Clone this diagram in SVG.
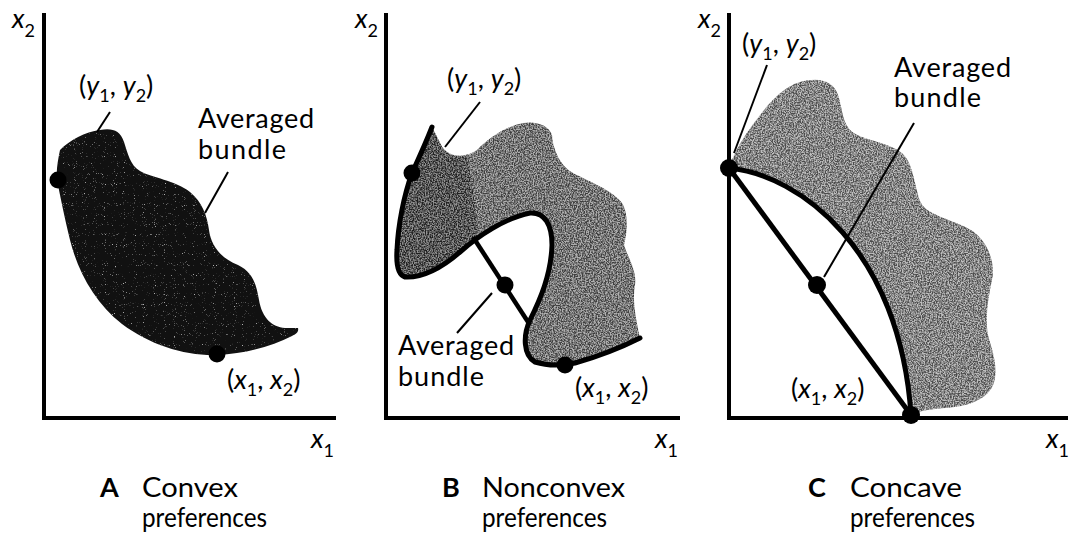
<svg xmlns="http://www.w3.org/2000/svg" width="1074" height="534" viewBox="0 0 1074 534">
<style>
.ax{stroke:#000;stroke-width:4;fill:none;stroke-linecap:square}
.ld{stroke:#000;stroke-width:2;fill:none}
.ol{stroke:#000;stroke-width:5;fill:none;stroke-linecap:round;stroke-linejoin:round}
.t{font-family:Lato,'Open Sans','DejaVu Sans',sans-serif;font-size:27px;fill:#000}
.c{font-size:27px}
.i{font-style:italic}
.sub{font-size:18px}
.cap{font-weight:bold}
.dot{fill:#000}
</style>
<defs>
<filter id="grain" x="-5%" y="-5%" width="110%" height="110%" color-interpolation-filters="sRGB">
<feTurbulence type="fractalNoise" baseFrequency="0.75" numOctaves="2" seed="3" result="n"/>
<feColorMatrix in="n" type="matrix" values="3 0 0 0 -1  3 0 0 0 -1  3 0 0 0 -1  0 0 0 0 1" result="g"/>
<feComposite in="g" in2="SourceGraphic" operator="in" result="gi"/>
<feComposite in="gi" in2="SourceGraphic" operator="arithmetic" k1="0" k2="0.45" k3="0.55" k4="0"/>
</filter>
<filter id="specks" x="-5%" y="-5%" width="110%" height="110%" color-interpolation-filters="sRGB">
<feTurbulence type="fractalNoise" baseFrequency="1.1" numOctaves="1" seed="8" result="n"/>
<feColorMatrix in="n" type="matrix" values="0 0 0 0 0.7  0 0 0 0 0.7  0 0 0 0 0.7  7 0 0 0 -4.6" result="w"/>
<feComposite in="w" in2="SourceGraphic" operator="in" result="wi"/>
<feMerge><feMergeNode in="SourceGraphic"/><feMergeNode in="wi"/></feMerge>
</filter>
</defs>
<rect width="1074" height="534" fill="#fff"/>

<!-- Panel A -->
<g id="panel-a">
<g id="axes-a">
<path class="ax" d="M44,15 V418 H334"/>
<text class="t" x="12" y="28"><tspan class="i">x</tspan><tspan class="sub" dy="9">2</tspan></text>
<text class="t" x="311" y="448"><tspan class="i">x</tspan><tspan class="sub" dy="9">1</tspan></text>
</g>
<g id="blob-a">
<path fill="#111" filter="url(#specks)" d="M60,150 C70,140 85,132 100,130 C112,128 120,130 124,142 C128,154 130,165 140,171 C152,178 175,180 190,192 C202,202 207,215 209,230 C211,245 220,258 238,265 C252,272 256,282 259,300 C262,318 272,327 285,328 L298,328 C299,332 296,334 292,336 C272,346 245,354 217,355 C185,356 150,345 122,324 C95,303 78,272 70,240 C64,215 60,195 57,180 C56,170 58,160 60,150 Z"/>
<circle class="dot" cx="58" cy="180" r="8.5"/>
<circle class="dot" cx="217" cy="354" r="8.5"/>
</g>
<g id="label-a-y">
<text class="t" x="79" y="95">(<tspan class="i">y</tspan><tspan class="sub" dy="7">1</tspan><tspan dy="-7">, </tspan><tspan class="i">y</tspan><tspan class="sub" dy="7">2</tspan><tspan dy="-7">)</tspan></text>
</g>
<g id="label-a-avg">
<text class="t" x="198" y="128" textLength="116">Averaged</text>
<text class="t" x="198" y="159" textLength="88">bundle</text>
</g>
<g id="label-a-x">
<text class="t" x="227" y="389">(<tspan class="i">x</tspan><tspan class="sub" dy="7">1</tspan><tspan dy="-7">, </tspan><tspan class="i">x</tspan><tspan class="sub" dy="7">2</tspan><tspan dy="-7">)</tspan></text>
</g>
<g id="caption-a">
<text class="t c cap" x="100" y="497">A</text>
<text class="t c" x="142" y="497" textLength="96" lengthAdjust="spacingAndGlyphs">Convex</text>
<text class="t c" x="142" y="527" textLength="125" lengthAdjust="spacingAndGlyphs">preferences</text>
</g>
</g>

<!-- Panel B -->
<g id="panel-b">
<g id="axes-b">
<path class="ax" d="M386,15 V418 H678"/>
<text class="t" x="355" y="28"><tspan class="i">x</tspan><tspan class="sub" dy="9">2</tspan></text>
<text class="t" x="655" y="448"><tspan class="i">x</tspan><tspan class="sub" dy="9">1</tspan></text>
</g>
<g id="blob-b">
<g filter="url(#grain)">
<path fill="#707070" d="M432,127 C425,145 418,160 412,173 C404,195 398,225 397,250 C396,265 398,275 405,277 C425,278 445,265 460,252 C478,236 505,218 530,213 C545,212 552,225 552,245 C551,275 540,300 530,320 C523,335 523,355 535,362 C548,366 560,366 575,363 C600,356 620,348 640,338 C636,320 632,300 635,285 C637,270 628,258 624,245 C628,230 628,212 622,203 C612,190 590,182 573,173 C560,166 553,150 552,135 C548,124 535,121 523,123 C505,127 490,137 477,150 C465,158 450,158 442,147 Z"/>
<path fill="#222" opacity="0.7" d="M432,127 C425,145 418,160 412,173 C404,195 398,225 397,250 C396,265 398,275 405,277 C425,278 445,265 460,252 C468,245 474,240 478,236 C476,210 472,180 466,156 C456,158 447,155 442,147 Z"/>
</g>
<path class="ol" d="M432,127 C425,145 418,160 412,173 C404,195 398,225 397,250 C396,265 398,275 405,277 C425,278 445,265 460,252 C478,236 505,218 530,213 C545,212 552,225 552,245 C551,275 540,300 530,320 C523,335 523,355 535,362 C548,366 560,366 575,363 C600,356 620,348 640,338"/>
<line x1="473" y1="237" x2="530" y2="325" stroke="#000" stroke-width="4.5"/>
<circle class="dot" cx="412" cy="173" r="8.5"/>
<circle class="dot" cx="505" cy="285" r="8.5"/>
<circle class="dot" cx="565" cy="365" r="8.5"/>
</g>
<g id="label-b-y">
<text class="t" x="447" y="88">(<tspan class="i">y</tspan><tspan class="sub" dy="7">1</tspan><tspan dy="-7">, </tspan><tspan class="i">y</tspan><tspan class="sub" dy="7">2</tspan><tspan dy="-7">)</tspan></text>
</g>
<g id="label-b-avg">
<text class="t" x="398" y="355" textLength="116">Averaged</text>
<text class="t" x="398" y="386" textLength="86">bundle</text>
</g>
<g id="label-b-x">
<text class="t" x="575" y="397">(<tspan class="i">x</tspan><tspan class="sub" dy="7">1</tspan><tspan dy="-7">, </tspan><tspan class="i">x</tspan><tspan class="sub" dy="7">2</tspan><tspan dy="-7">)</tspan></text>
</g>
<g id="caption-b">
<text class="t c cap" x="442" y="497">B</text>
<text class="t c" x="482" y="497" textLength="143" lengthAdjust="spacingAndGlyphs">Nonconvex</text>
<text class="t c" x="482" y="527" textLength="125" lengthAdjust="spacingAndGlyphs">preferences</text>
</g>
</g>

<!-- Panel C -->
<g id="panel-c">
<g id="axes-c">
<path class="ax" d="M729,15 V418 H1066"/>
<text class="t" x="698" y="28"><tspan class="i">x</tspan><tspan class="sub" dy="9">2</tspan></text>
<text class="t" x="1046" y="448"><tspan class="i">x</tspan><tspan class="sub" dy="9">1</tspan></text>
</g>
<g id="blob-c">
<path fill="#8a8a8a" filter="url(#grain)" d="M729,168 C735,150 745,135 754,123 C765,108 780,88 800,82 C818,77 833,80 838,95 C843,110 842,125 854,133 C866,141 893,143 904,155 C914,166 915,190 921,203 C928,216 955,220 971,230 C987,240 996,262 992,280 C988,298 985,318 988,335 C992,350 997,362 995,378 C993,393 980,402 961,406 C945,409 925,408 911,415 C900,250 800,175 729,168 Z"/>
<path class="ol" d="M729,168 C800,175 900,250 911,415"/>
<line x1="729" y1="168" x2="911" y2="415" stroke="#000" stroke-width="5"/>
<circle class="dot" cx="729" cy="168" r="9"/>
<circle class="dot" cx="817" cy="285" r="9"/>
<circle class="dot" cx="911" cy="415" r="9"/>
</g>
<g id="label-c-y">
<text class="t" x="742" y="53">(<tspan class="i">y</tspan><tspan class="sub" dy="7">1</tspan><tspan dy="-7">, </tspan><tspan class="i">y</tspan><tspan class="sub" dy="7">2</tspan><tspan dy="-7">)</tspan></text>
</g>
<g id="label-c-avg">
<text class="t" x="894" y="77" textLength="117">Averaged</text>
<text class="t" x="894" y="107" textLength="87">bundle</text>
</g>
<g id="label-c-x">
<text class="t" x="791" y="398">(<tspan class="i">x</tspan><tspan class="sub" dy="7">1</tspan><tspan dy="-7">, </tspan><tspan class="i">x</tspan><tspan class="sub" dy="7">2</tspan><tspan dy="-7">)</tspan></text>
</g>
<g id="caption-c">
<text class="t c cap" x="808" y="497">C</text>
<text class="t c" x="850" y="497" textLength="112" lengthAdjust="spacingAndGlyphs">Concave</text>
<text class="t c" x="850" y="527" textLength="125" lengthAdjust="spacingAndGlyphs">preferences</text>
</g>
</g>

<g id="connectors">
<line class="ld" x1="110" y1="112" x2="97" y2="132"/>
<line class="ld" x1="228" y1="172" x2="205" y2="213"/>
<line class="ld" x1="480" y1="102" x2="445" y2="147"/>
<line class="ld" x1="492" y1="293" x2="457" y2="333"/>
<line class="ld" x1="767" y1="65" x2="734" y2="153"/>
<line class="ld" x1="914" y1="123" x2="824" y2="277"/>
</g>
</svg>
